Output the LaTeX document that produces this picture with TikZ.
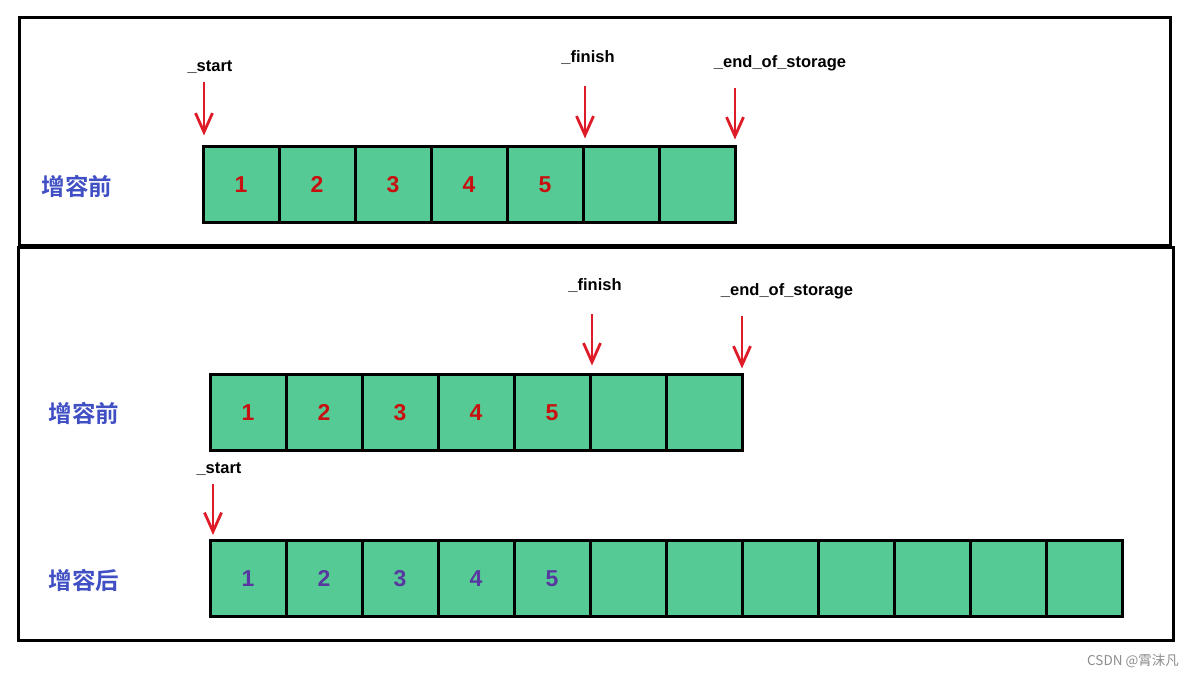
\documentclass[tikz,border=0pt]{standalone}
\usepackage{fontspec}
\setmainfont{Liberation Sans}[BoldFont={Liberation Sans Bold}]
\newfontfamily\cjk{Noto Sans CJK SC}[BoldFont={Noto Sans CJK SC Bold}]
\newfontfamily\wmfont{Noto Sans CJK SC}
\usetikzlibrary{arrows.meta}
\definecolor{cellgreen}{RGB}{86,202,149}
\definecolor{numred}{RGB}{200,16,16}
\definecolor{numpurple}{RGB}{88,56,160}
\definecolor{lblblue}{RGB}{64,80,196}
\definecolor{ptrred}{RGB}{222,28,40}
\tikzset{
  frame/.style={draw=black, line width=3pt},
  cell/.style={draw=black, fill=cellgreen, line width=3pt, minimum width=76pt, minimum height=76pt, inner sep=0pt, text height=16pt, text depth=0pt, font=\bfseries\fontsize{23}{23}\selectfont},
  rednum/.style={cell, text=numred},
  purnum/.style={cell, text=numpurple},
  rowlbl/.style={font=\cjk\bfseries\fontsize{23.5}{23.5}\selectfont, text=lblblue},
  ptrlbl/.style={font=\bfseries\fontsize{16.5}{16.5}\selectfont, text=black},
  ptr/.style={draw=ptrred, line width=2.8pt, -{Straight Barb[length=19pt,width=17pt,line width=2.8pt]}},
  wm/.style={font=\wmfont\fontsize{13.5}{13.5}\selectfont, text=black!45}
}
\begin{document}
\begin{tikzpicture}[x=1pt,y=-1pt]
\useasboundingbox (0,0) rectangle (1198,678);
% frames
\draw[frame] (19,17) rectangle (1170,245);
\draw[frame] (18,247) rectangle (1173,640);

% top row (before)
\node[rowlbl] (lblA) at (77,186) {增容前};
\foreach \i/\t in {1/1,2/2,3/3,4/4,5/5} {
  \node[rednum] (a\i) at ({203+38+76*(\i-1)},184) {\t};
}
\node[cell] (a6) at ({203+38+76*5},184) {};
\node[cell] (a7) at ({203+38+76*6},184) {};
\node[ptrlbl] (sA) at (210,67) {\_start};
\node[ptrlbl] (fA) at (588,58) {\_finish};
\node[ptrlbl] (eA) at (780,63) {\_end\_of\_storage};
\coordinate (sAt) at (204,82);
\coordinate (fAt) at (585,86);
\coordinate (eAt) at (735,88);
\draw[ptr, shorten >=9pt] (sAt) -- (sAt |- a1.north);
\draw[ptr, shorten >=6pt] (fAt) -- (fAt |- a6.north);
\draw[ptr, shorten >=5pt] (eAt) -- (eAt |- a7.north);

% middle row (before)
\node[rowlbl] (lblB) at (84,413) {增容前};
\foreach \i/\t in {1/1,2/2,3/3,4/4,5/5} {
  \node[rednum] (b\i) at ({210+38+76*(\i-1)},412) {\t};
}
\node[cell] (b6) at ({210+38+76*5},412) {};
\node[cell] (b7) at ({210+38+76*6},412) {};
\node[ptrlbl] (fB) at (595,286) {\_finish};
\node[ptrlbl] (eB) at (787,291) {\_end\_of\_storage};
\coordinate (fBt) at (592,314);
\coordinate (eBt) at (742,316);
\draw[ptr, shorten >=7pt] (fBt) -- (fBt |- b6.north);
\draw[ptr, shorten >=4pt] (eBt) -- (eBt |- b7.north);

% bottom row (after)
\node[rowlbl] (lblC) at (84,580) {增容后};
\foreach \i/\t in {1/1,2/2,3/3,4/4,5/5} {
  \node[purnum] (c\i) at ({210+38+76*(\i-1)},578.5) {\t};
}
\foreach \i in {6,...,12} {
  \node[cell] (c\i) at ({210+38+76*(\i-1)},578.5) {};
}
\node[ptrlbl] (sC) at (219,469) {\_start};
\coordinate (sCt) at (213,484);
\draw[ptr, shorten >=4pt] (sCt) -- (sCt |- c1.north);

% watermark
\node[wm] (wmk) at (1133,661) {CSDN @霄沫凡};
\end{tikzpicture}
\end{document}
